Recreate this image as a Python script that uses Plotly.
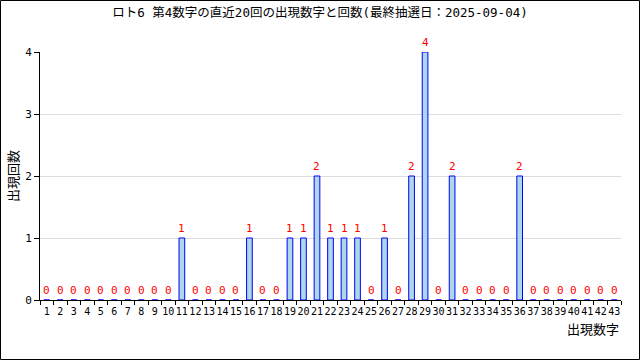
import plotly.graph_objects as go

numbers = [str(i) for i in range(1, 44)]
counts = [0,0,0,0,0,0,0,0,0,0,1,0,0,0,0,1,0,0,1,1,2,1,1,1,0,1,0,2,4,0,2,0,0,0,0,2,0,0,0,0,0,0,0]
title_text = "ロト6 第4数字の直近20回の出現数字と回数(最終抽選日：2025-09-04)"
y_ticks = [0, 1, 2, 3, 4]

L, R, T, B = 40, 19, 52, 60
W, H = 640, 360
pw, ph = W - L - R, H - T - B

mono = "DejaVu Sans Mono"
mixed = "DejaVu Sans Mono, Noto Sans CJK JP"
cjk = "Noto Sans CJK JP"

fig = go.Figure()
fig.add_trace(go.Bar(
    x=numbers, y=counts, width=0.42,
    marker=dict(color="#add8e6", line=dict(color="#0000ff", width=1)),
    hoverinfo="x+y", showlegend=False,
))
for i, c in enumerate(counts):
    fig.add_annotation(x=i, y=c, text=str(c), showarrow=False, yanchor="middle", yshift=10,
                       font=dict(color="#ff0000", size=11, family=mono))

fig.update_layout(
    width=W, height=H,
    margin=dict(l=L, r=R, t=T, b=B),
    plot_bgcolor="white", paper_bgcolor="white",
    title=dict(text=title_text, x=0.5, xanchor="center", y=(H - 13) / H, yanchor="middle",
               font=dict(size=12.5, color="#000", family=mixed)),
    xaxis=dict(type="category", tickson="boundaries", ticks="outside", ticklen=4, tickcolor="#000",
               showline=True, linecolor="#000", linewidth=1, showgrid=False,
               tickfont=dict(size=10, color="#000", family=mono), tickangle=0,
               ticklabelstandoff=2, range=[-0.5, 42.5]),
    yaxis=dict(range=[0, 4], tickvals=y_ticks, ticks="outside", ticklen=5, tickcolor="#000",
               showline=True, linecolor="#000", linewidth=1, showgrid=True, gridcolor="#dddddd",
               tickfont=dict(size=11, color="#000", family=mono), zeroline=False),
    font=dict(family=mono),
)

fig.add_annotation(text="出現数字", xref="paper", yref="paper", x=1, xanchor="right",
                   y=(300 - 328) / ph, yanchor="middle", showarrow=False,
                   font=dict(size=13, color="#000", family=cjk))
fig.add_annotation(text="出現回数", xref="paper", yref="paper", x=(12 - L) / pw, xanchor="center",
                   y=(300 - 176) / ph, yanchor="middle", showarrow=False, textangle=-90,
                   font=dict(size=13, color="#000", family=cjk))

fig.add_shape(type="rect", xref="paper", yref="paper",
              x0=(0.5 - L) / pw, x1=(W - 0.5 - L) / pw,
              y0=(300 - (H - 0.5)) / ph, y1=(300 - 0.5) / ph,
              line=dict(color="#000", width=1), fillcolor="rgba(0,0,0,0)", layer="above")

fig.write_html("out.html")
